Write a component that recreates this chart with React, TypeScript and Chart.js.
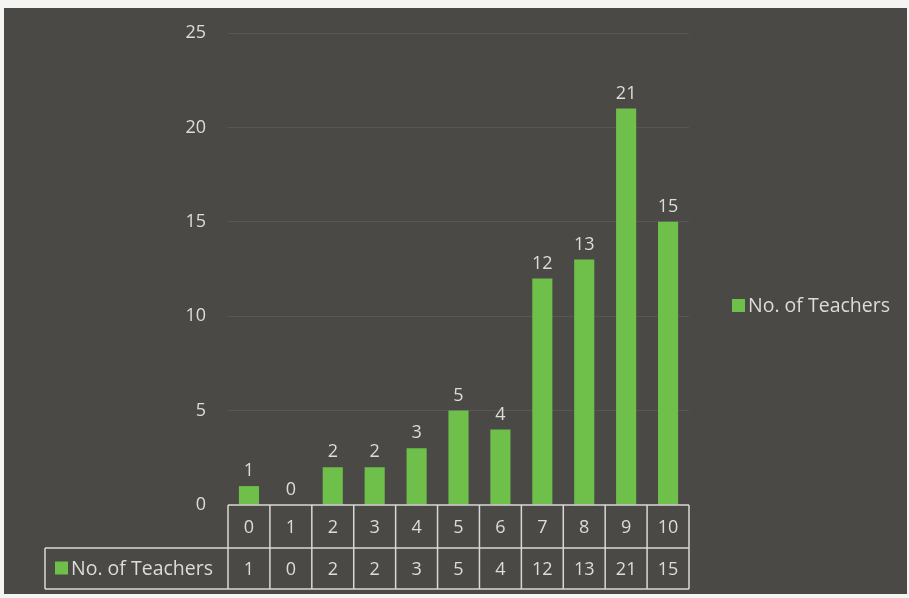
import React, { useEffect, useRef } from "react";
import { Chart, registerables } from "chart.js";

Chart.register(...registerables);

const categories = ["0", "1", "2", "3", "4", "5", "6", "7", "8", "9", "10"];
const teachers = [1, 0, 2, 2, 3, 5, 4, 12, 13, 21, 15];
const seriesName = "No. of Teachers";
const yTicks = [0, 5, 10, 15, 20, 25];

const BG = "#4a4946";
const GREEN = "#6fc04a";
const TEXT = "#dcdcd8";
const LINE = "#d8d8d4";
const FONT = "'Open Sans', 'Noto Sans', sans-serif";

const overlay = {
  id: "overlay",
  beforeDraw(chart: any) {
    const { ctx, width, height } = chart;
    ctx.save();
    ctx.fillStyle = "#f4f4f2";
    ctx.fillRect(0, 0, width, height);
    ctx.fillStyle = BG;
    ctx.fillRect(4, 8, width - 6, height - 12);
    ctx.restore();
  },
  afterDraw(chart: any) {
    const { ctx, chartArea } = chart;
    const x = chart.scales.x;
    const n = categories.length;
    const step = (chartArea.right - chartArea.left) / n;
    const top = chartArea.bottom;
    const row1 = top + 43;
    const row2 = row1 + 41;
    const legLeft = 45;
    ctx.save();
    ctx.strokeStyle = LINE;
    ctx.lineWidth = 1.5;
    ctx.beginPath();
    ctx.moveTo(chartArea.left, top);
    ctx.lineTo(chartArea.right, top);
    ctx.moveTo(legLeft, row1);
    ctx.lineTo(chartArea.right, row1);
    ctx.moveTo(legLeft, row2);
    ctx.lineTo(chartArea.right, row2);
    ctx.moveTo(legLeft, row1);
    ctx.lineTo(legLeft, row2);
    for (let i = 0; i <= n; i++) {
      const px = chartArea.left + i * step;
      ctx.moveTo(px, top);
      ctx.lineTo(px, row2);
    }
    ctx.stroke();

    ctx.fillStyle = TEXT;
    ctx.font = `18px ${FONT}`;
    ctx.textAlign = "center";
    ctx.textBaseline = "middle";
    categories.forEach((c, i) => {
      const px = x.getPixelForValue(i);
      ctx.fillText(c, px, (top + row1) / 2 + 1);
      ctx.fillText(String(teachers[i]), px, (row1 + row2) / 2 + 1);
    });
    // legend in table
    ctx.fillStyle = GREEN;
    ctx.fillRect(55, (row1 + row2) / 2 - 7, 13, 13);
    ctx.fillStyle = TEXT;
    ctx.font = `19.5px ${FONT}`;
    ctx.textAlign = "left";
    ctx.fillText(seriesName, 71, (row1 + row2) / 2 + 1);

    // data labels
    const meta = chart.getDatasetMeta(0);
    ctx.font = `18px ${FONT}`;
    ctx.textAlign = "center";
    ctx.textBaseline = "bottom";
    meta.data.forEach((bar: any, i: number) => {
      ctx.fillText(String(teachers[i]), bar.x, bar.y - 6);
    });

    // right legend
    ctx.fillStyle = GREEN;
    ctx.fillRect(732, 299, 13, 13);
    ctx.fillStyle = TEXT;
    ctx.font = `19.5px ${FONT}`;
    ctx.textAlign = "left";
    ctx.textBaseline = "middle";
    ctx.fillText(seriesName, 748, 306);
    ctx.restore();
  },
};

export default function App() {
  const ref = useRef<HTMLCanvasElement>(null);
  useEffect(() => {
    if (!ref.current) return;
    const chart = new Chart(ref.current, {
      type: "bar",
      data: {
        labels: categories,
        datasets: [
          {
            label: seriesName,
            data: teachers,
            backgroundColor: GREEN,
            borderWidth: 0,
            categoryPercentage: 0.48,
            barPercentage: 1,
          },
        ],
      },
      options: {
        responsive: false,
        animation: false,
        layout: { padding: { left: 158, right: 220, top: 33, bottom: 93 } },
        plugins: { legend: { display: false }, tooltip: { enabled: false } },
        scales: {
          x: { display: false },
          y: {
            min: 0,
            max: 25,
            afterFit: (s: any) => {
              s.width = 70;
            },
            afterBuildTicks: (s: any) => {
              s.ticks = yTicks.map((v) => ({ value: v }));
            },
            border: { display: false },
            grid: {
              color: (c: any) => (c.tick && c.tick.value === 0 ? "rgba(0,0,0,0)" : "rgba(255,255,255,0.08)"),
              drawTicks: false,
            },
            ticks: {
              color: TEXT,
              font: { size: 18, family: FONT },
              padding: 22,
            },
          },
        },
      },
      plugins: [overlay],
    });
    return () => chart.destroy();
  }, []);
  return (
    <div style={{ position: "fixed", left: 0, top: 0, width: 909, height: 598 }}>
      <canvas ref={ref} width={909} height={598} style={{ display: "block" }} />
    </div>
  );
}
